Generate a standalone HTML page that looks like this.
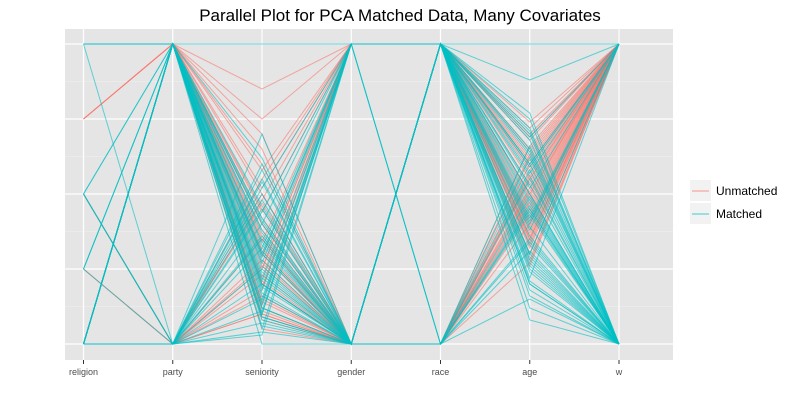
<!DOCTYPE html>
<html><head><meta charset="utf-8"><style>
body{margin:0;background:#fff;font-family:"Liberation Sans",sans-serif}
svg text{font-family:"Liberation Sans",sans-serif}
</style></head><body>
<svg id="chart" width="800" height="400">
<text x="400" y="21" text-anchor="middle" font-size="17" fill="#000">Parallel Plot for PCA Matched Data, Many Covariates</text>
<rect x="65" y="29" width="608" height="331" fill="#e5e5e5"/>
<g id="grid"></g><g id="lines"></g><g id="axis"></g>
<g>
<rect x="690" y="180" width="21" height="21" fill="#f2f2f2"/>
<line x1="692" y1="191" x2="709" y2="191" stroke="#F8766D" stroke-opacity="0.5" stroke-width="1.5"/>
<text x="716" y="195" font-size="12" fill="#000">Unmatched</text>
<rect x="690" y="203" width="21" height="21" fill="#f2f2f2"/>
<line x1="692" y1="214" x2="709" y2="214" stroke="#00BFC4" stroke-opacity="0.5" stroke-width="1.5"/>
<text x="716" y="218" font-size="12" fill="#000">Matched</text>
</g>
</svg>
<script>
const variables=["religion","party","seniority","gender","race","age","w"];
// Unmatched rows
const unmatchedReligion=[0,1,0,0,0.75,0.75,1,0,0.5,0,0,0,0.75,0,1,0,0,0,0.25,0,0,0,1,0,0,0,0.5,0,0,0.25,0,1,0,0,0,0,0.75,0,1,0,0,0,0,0,0.5,0,1,0,0,0];
const unmatchedParty=[0,1,1,1,1,1,1,1,0,1,1,0,1,1,1,0,1,1,0,1,1,1,1,0,1,1,0,1,1,0,1,1,0,1,1,1,1,0,1,1,1,0,1,1,0,1,1,0,1,1];
const unmatchedSeniority=[0.1,0.15,0.22,0.3,0.85,0.4,0.35,0.5,0.18,0.6,0.45,0.25,0.08,0.3,0.2,0.55,0.12,0.42,0.28,0.75,0.38,0.05,0.32,0.48,0.2,0.14,0.35,0.65,0.25,0.1,0.44,0.27,0.16,0.52,0.36,0.09,0.58,0.23,0.4,0.13,0.31,0.47,0.19,0.7,0.26,0.34,0.11,0.5,0.29,0.21];
const unmatchedGender=[0,0,1,0,1,0,0,0,1,0,0,1,0,0,0,1,0,0,0,1,0,0,0,1,0,0,0,0,1,0,1,0,0,1,0,0,1,0,0,1,0,0,1,0,0,1,0,0,1,0];
const unmatchedRace=[1,1,1,0,1,1,1,0,1,1,0,1,1,0,1,1,1,0,1,1,0,1,1,1,0,1,0,1,1,0,1,0,1,1,0,1,1,0,1,1,0,1,1,0,1,1,0,1,1,0];
const unmatchedAge=[0.5,0.6,0.35,0.4,0.7,0.55,0.3,0.45,0.62,0.38,0.52,0.68,0.28,0.48,0.58,0.33,0.42,0.56,0.65,0.36,0.5,0.44,0.72,0.3,0.54,0.4,0.6,0.46,0.35,0.66,0.74,0.27,0.53,0.41,0.63,0.37,0.49,0.57,0.32,0.69,0.43,0.61,0.39,0.51,0.26,0.59,0.47,0.64,0.34,0.55];
const unmatchedW=[1,1,1,1,1,1,1,1,1,1,1,1,1,1,1,1,1,1,1,1,1,1,1,1,1,1,1,1,1,1,1,1,1,1,1,1,1,1,1,1,1,1,1,1,1,1,1,1,1,1];
// Matched rows
const matchedReligion=[1,1,0.5,0.5,0.25,0,0,0,0,1,0,0,0,0,0.5,0.25,0,0,1,0,0,0,0,0,0.5,0,0,0,0.25,0,0,0,1,0,0,0,0,0,0,0,0,1,0,0,0.5,0,0,0,0,0.25,0,0,1,0,0,0,0,0,0,0];
const matchedParty=[0,1,0,1,1,0,1,1,0,1,1,0,1,1,0,1,1,0,1,0,1,1,0,1,1,0,1,1,0,1,1,0,1,0,1,1,0,1,1,0,1,1,0,1,0,1,1,0,1,1,0,1,1,0,1,1,0,1,1,1];
const matchedSeniority=[0.2,1,0.7,0.05,0.0,0.25,0.4,0.12,0.55,0.3,0.08,0.45,0.18,0.62,0.35,0.22,0.1,0.5,0.28,0.15,0.42,0.06,0.32,0.2,0.38,0.6,0.14,0.26,0.48,0.1,0.34,0.04,0.24,0.52,0.16,0.3,0.44,0.09,0.2,0.36,0.13,0.41,0.07,0.29,0.54,0.19,0.33,0.11,0.46,0.23,0.03,0.37,0.17,0.58,0.27,0.09,0.4,0.21,0.31,0.12];
const matchedGender=[0,1,0,1,0,0,1,0,0,1,0,0,1,0,0,0,1,0,0,1,0,0,1,0,0,0,1,0,0,1,0,0,0,1,0,0,1,0,0,0,1,0,0,1,0,0,0,1,0,0,1,0,0,0,1,0,0,1,0,0];
const matchedRace=[1,1,0,1,1,1,0,1,1,1,0,1,1,1,0,1,1,1,1,0,1,1,1,1,0,1,1,1,1,1,0,1,1,1,1,0,1,1,1,1,1,0,1,1,1,1,0,1,1,1,1,1,0,1,1,1,1,0,1,1];
const matchedAge=[1,0.88,0.15,0.08,0.75,0.3,0.45,0.6,0.2,0.52,0.35,0.68,0.25,0.4,0.58,0.12,0.48,0.65,0.22,0.55,0.33,0.7,0.42,0.18,0.62,0.28,0.5,0.38,0.72,0.26,0.46,0.56,0.3,0.64,0.2,0.44,0.36,0.6,0.16,0.5,0.24,0.66,0.41,0.53,0.29,0.71,0.34,0.47,0.59,0.21,0.43,0.77,0.31,0.57,0.39,0.63,0.27,0.49,0.69,0.45];
const matchedW=[1,1,0,0,0,0,0,0,0,1,0,0,0,1,0,0,0,0,1,0,0,0,1,0,0,0,0,1,0,0,0,0,1,0,0,0,0,1,0,0,0,0,1,0,0,0,0,0,1,0,0,0,0,1,0,0,0,0,1,0];

const NS="http://www.w3.org/2000/svg";
const xL=83.5,xR=619,yT=44,yB=344;
const xPos=i=>xL+i*(xR-xL)/(variables.length-1);
const yPos=v=>yB-v*(yB-yT);
function mk(t,a,p){const e=document.createElementNS(NS,t);for(const k in a)e.setAttribute(k,a[k]);p.appendChild(e);return e;}
const grid=document.getElementById('grid');
[0.125,0.375,0.625,0.875].forEach(v=>{const l=mk('line',{x1:65,x2:673,y1:yPos(v),y2:yPos(v),stroke:'#f2f2f2','stroke-width':0.6},grid);

});
[0,0.25,0.5,0.75,1].forEach(v=>{const l=mk('line',{x1:65,x2:673,y1:yPos(v),y2:yPos(v),stroke:'#fff','stroke-width':1.2},grid);

});
const axis=document.getElementById('axis');
variables.forEach((n,i)=>{const l=mk('line',{x1:xPos(i),x2:xPos(i),y1:29,y2:360,stroke:'#fff','stroke-width':1.2},grid);


const tk=mk('line',{x1:xPos(i),x2:xPos(i),y1:360,y2:364,stroke:'#333'},axis);


const t=mk('text',{x:xPos(i),y:375,'text-anchor':'middle','font-size':9,fill:'#4d4d4d'},axis);t.textContent=n;

});
const lines=document.getElementById('lines');
function draw(cols,color,name){for(let r=0;r<cols[0].length;r++){const pts=cols.map((c,i)=>xPos(i)+','+yPos(c[r])).join(' ');
const p=mk('polyline',{points:pts,fill:'none',stroke:color,'stroke-opacity':0.6,'stroke-width':1},lines);

}}
draw([unmatchedReligion,unmatchedParty,unmatchedSeniority,unmatchedGender,unmatchedRace,unmatchedAge,unmatchedW],'#F8766D','unmatched-line');
draw([matchedReligion,matchedParty,matchedSeniority,matchedGender,matchedRace,matchedAge,matchedW],'#00BFC4','matched-line');
</script>
</body></html>
